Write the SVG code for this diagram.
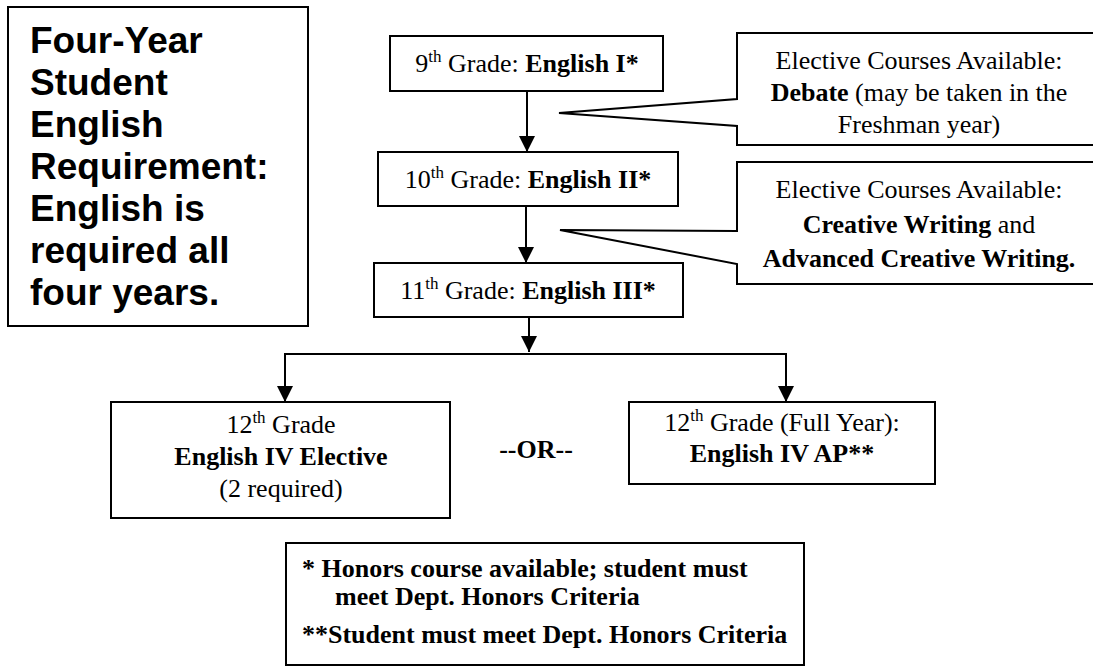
<svg xmlns="http://www.w3.org/2000/svg" width="1093" height="670" viewBox="0 0 1093 670">
<defs>
<style>
.box{fill:#fff;stroke:#000;stroke-width:2}
.t{font-family:"Liberation Serif","Times New Roman",serif;font-size:26px;fill:#000}
.c{text-anchor:middle}
.b{font-weight:bold}
.title{font-family:"Liberation Sans",Arial,sans-serif;font-size:37px;font-weight:bold;fill:#000}
.ln{fill:none;stroke:#000;stroke-width:2}
</style>
<marker id="ah" viewBox="0 0 16 16" refX="16" refY="8" markerWidth="16" markerHeight="16" markerUnits="userSpaceOnUse" orient="auto">
<path d="M0,0 L16,8 L0,16 Z" fill="#000"/>
</marker>
</defs>
<rect width="1093" height="670" fill="#fff"/>

<g id="title">
<rect class="box" x="8" y="7" width="300" height="319"/>
<text class="title" x="30" y="53">Four-Year</text>
<text class="title" x="30" y="95">Student</text>
<text class="title" x="30" y="137">English</text>
<text class="title" x="30" y="179">Requirement:</text>
<text class="title" x="30" y="221">English is</text>
<text class="title" x="30" y="263">required all</text>
<text class="title" x="30" y="305">four years.</text>
</g>

<g id="connectors">
<line class="ln" x1="527" y1="91" x2="527" y2="152" marker-end="url(#ah)"/>
<line class="ln" x1="526" y1="206" x2="526" y2="263" marker-end="url(#ah)"/>
<line class="ln" x1="529" y1="317" x2="529" y2="352" marker-end="url(#ah)"/>
<polyline class="ln" points="285,354 786,354"/>
<line class="ln" x1="285" y1="353" x2="285" y2="402" marker-end="url(#ah)"/>
<line class="ln" x1="786" y1="353" x2="786" y2="402" marker-end="url(#ah)"/>
</g>

<g id="grade9">
<rect class="box" x="390" y="36" width="273" height="55"/>
<text class="t c" x="527" y="72">9<tspan font-size="17" dy="-10">th</tspan><tspan dy="10"> Grade: </tspan><tspan class="b">English I*</tspan></text>
</g>

<g id="grade10">
<rect class="box" x="378" y="152" width="300" height="54"/>
<text class="t c" x="528" y="188">10<tspan font-size="17" dy="-10">th</tspan><tspan dy="10"> Grade: </tspan><tspan class="b">English II*</tspan></text>
</g>

<g id="grade11">
<rect class="box" x="374" y="263" width="309" height="54"/>
<text class="t c" x="528" y="299">11<tspan font-size="17" dy="-10">th</tspan><tspan dy="10"> Grade: </tspan><tspan class="b">English III*</tspan></text>
</g>

<g id="callout1">
<path class="box" d="M737,99 L737,33 L1100,33 L1100,145 L737,145 L737,126 L559,113 Z"/>
<text class="t c" x="919" y="69">Elective Courses Available:</text>
<text class="t c" x="919" y="101"><tspan class="b">Debate</tspan> (may be taken in the</text>
<text class="t c" x="919" y="133">Freshman year)</text>
</g>

<g id="callout2">
<path class="box" d="M737,231 L737,162 L1100,162 L1100,284 L737,284 L737,264 L560,230 Z"/>
<text class="t c" x="919" y="198">Elective Courses Available:</text>
<text class="t c" x="919" y="233"><tspan class="b">Creative Writing</tspan> and</text>
<text class="t c" x="919" y="267" font-weight="bold">Advanced Creative Writing.</text>
</g>

<g id="grade12elective">
<rect class="box" x="111" y="402" width="339" height="116"/>
<text class="t c" x="281" y="433">12<tspan font-size="17" dy="-10">th</tspan><tspan dy="10"> Grade</tspan></text>
<text class="t c" x="281" y="465" font-weight="bold">English IV Elective</text>
<text class="t c" x="281" y="497">(2 required)</text>
</g>

<g id="or">
<text class="t c" x="536" y="458" font-size="30" font-weight="bold">--OR--</text>
</g>

<g id="grade12ap">
<rect class="box" x="629" y="402" width="306" height="82"/>
<text class="t c" x="782" y="431">12<tspan font-size="17" dy="-10">th</tspan><tspan dy="10"> Grade (Full Year):</tspan></text>
<text class="t c" x="782" y="462" font-weight="bold">English IV AP**</text>
</g>

<g id="footnote">
<rect class="box" x="286" y="543" width="518" height="122"/>
<text class="t" x="302" y="577" font-weight="bold">* Honors course available; student must</text>
<text class="t" x="335" y="605" font-weight="bold">meet Dept. Honors Criteria</text>
<text class="t" x="302" y="643" font-weight="bold">**Student must meet Dept. Honors Criteria</text>
</g>
</svg>
